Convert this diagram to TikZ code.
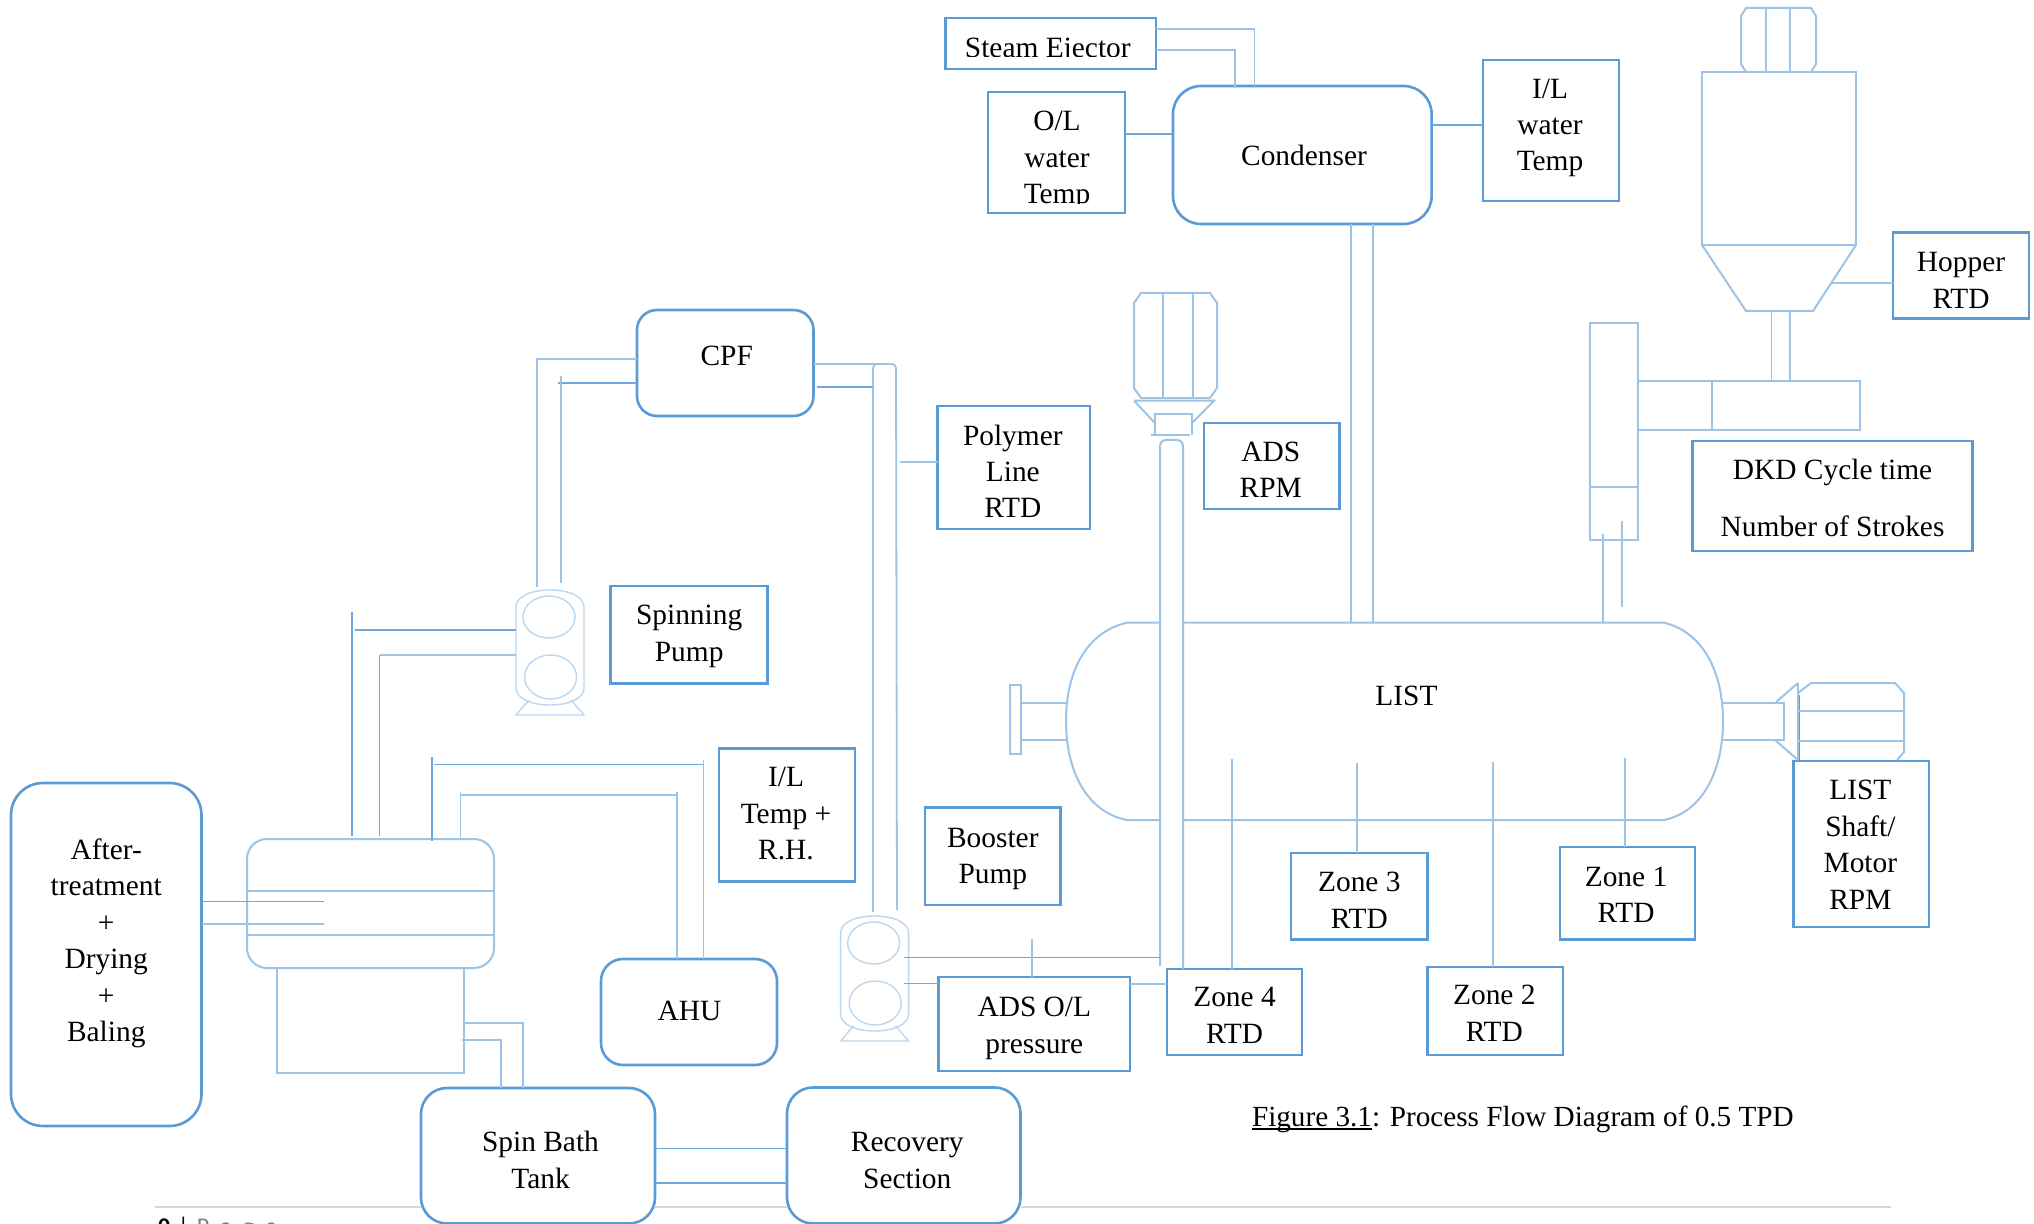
\documentclass[tikz,border=0pt]{standalone}
\usepackage{fontspec}
\setmainfont{Liberation Serif}
\newfontfamily\pagefont{Carlito}
\usetikzlibrary{calc}
\definecolor{bxblue}{HTML}{5B9BD5}
\definecolor{pipeblue}{HTML}{6FA8DC}
\definecolor{lightblue}{HTML}{9DC3E6}
\definecolor{paleblue}{HTML}{BDD7EE}
\newlength\px \setlength\px{0.5pt}
% text block inside a node, offset dx,dy (pixels) from node centre
\newcommand{\lb}[3]{\makebox[0pt]{\hspace*{\dimexpr#1\px*2\relax}\raisebox{\dimexpr-#2\px-5pt\relax}[0pt][0pt]{\begin{tabular}{@{}c@{}}#3\end{tabular}}}}
% style, name, x1,y1,x2,y2, content
\newcommand{\bx}[7]{\node[#1,minimum width={(#5-#3)*0.5pt},minimum height={(#6-#4)*0.5pt}] (#2) at ({(#3+#5)/2},{(#4+#6)/2}) {#7};}
% heavy underline
\newsavebox\ulbox
\newcommand{\hvul}[1]{\sbox\ulbox{#1}\rlap{\rule[-1.7pt]{\wd\ulbox}{0.8pt}}\usebox\ulbox}
% pump symbol: name, x, y
\newcommand{\pumpsym}[3]{%
\begin{scope}[shift={(#2,#3)}]
\node[hit,minimum width=34pt,minimum height=57pt] (#1) at (34,57) {};
\draw[pumpline] (0,17) .. controls (0,7) and (14,0) .. (34,0) .. controls (54,0) and (68,7) .. (68,17) -- (68,98) .. controls (68,108) and (54,115) .. (34,115) .. controls (14,115) and (0,108) .. (0,98) -- cycle;
\draw[pumpline] (33,27) ellipse [x radius=13pt,y radius=10.5pt];
\draw[pumpline] (34.6,87) ellipse [x radius=13pt,y radius=11pt];
\draw[pumpline] (13,110) -- (0,125) -- (68,125) -- (55,110);
\end{scope}}
\tikzset{
  every node/.style={inner sep=0pt,outer sep=0pt},
  txtfont/.style={font=\fontsize{14.7}{18.2}\selectfont},
  sqbox/.style={draw=bxblue,line width=1.3pt,rectangle,txtfont},
  rbox/.style={sqbox,rounded corners=#1},
  rbox/.default=12pt,
  vessel/.style={draw=lightblue,line width=0.9pt,rectangle},
  hit/.style={rectangle},
  pipe/.style={draw=pipeblue,line width=0.7pt},
  lpipe/.style={draw=lightblue,line width=0.9pt},
  pumpline/.style={draw=paleblue,line width=0.7pt},
  shapeline/.style={draw=lightblue,line width=1pt},
  pageline/.style={draw=black!16,line width=1pt},
}
\begin{document}
\begin{tikzpicture}[x=0.5pt,y=-0.5pt]
\useasboundingbox (0,0) rectangle (2034,1224);
\fill[white] (0,0) rectangle (2034,1224);

% ---- main boxes
\bx{sqbox}{steam}{945.6}{18}{1156}{69}{\lb{-3}{4}{Steam Ejector}}
\bx{sqbox}{olw}{988}{92}{1125}{213}{\lb{0.5}{4.5}{O/L\\water\\Temp}}
\bx{rbox=14pt}{cond}{1173}{86}{1431.6}{224}{\lb{1.7}{0.5}{Condenser}}
\bx{sqbox}{ilw}{1483}{60}{1619}{201}{\lb{-1}{-6}{I/L\\water\\Temp}}
\bx{sqbox}{hrtd}{1893}{232.5}{2029}{318.6}{\lb{0}{4.5}{Hopper\\RTD}}
\bx{sqbox}{dkd}{1692.6}{441}{1972.5}{551}{\lb{0}{2}{DKD Cycle time\\[10.3pt]Number of Strokes}}
\bx{sqbox}{adsrpm}{1203.8}{423}{1339.7}{509}{\lb{-1}{3.5}{ADS\\RPM}}
\bx{sqbox}{plrtd}{937.6}{406}{1090}{529}{\lb{-1}{4}{Polymer\\Line\\RTD}}
\bx{rbox=10pt}{cpf}{637}{310}{813.5}{416}{\lb{1.5}{-7.5}{CPF}}
\bx{sqbox}{spump}{610.6}{586}{767.7}{683.7}{\lb{0}{-2}{Spinning\\Pump}}
\bx{sqbox}{iltemp}{719}{748.5}{855}{881.6}{\lb{-1}{-2}{I/L\\Temp +\\R.H.}}
\bx{rbox=16pt}{after}{11}{783}{201.5}{1126}{\lb{0}{-14}{After-\\treatment\\+\\Drying\\+\\Baling}}
\bx{sqbox}{boost}{925}{807.5}{1060.6}{905}{\lb{0}{-1}{Booster\\Pump}}
\bx{rbox=11pt}{ahu}{601}{959}{777}{1065}{\lb{0.5}{-1.5}{AHU}}
\bx{sqbox}{adsol}{938.6}{977}{1130}{1071}{\lb{0}{1}{ADS O/L\\pressure}}
\bx{sqbox}{z4}{1167}{969}{1302}{1055}{\lb{0}{3}{Zone 4\\RTD}}
\bx{sqbox}{z3}{1291}{853}{1427.6}{939.6}{\lb{0}{3.5}{Zone 3\\RTD}}
\bx{sqbox}{z2}{1427.6}{967}{1563}{1055}{\lb{-1}{2}{Zone 2\\RTD}}
\bx{sqbox}{z1}{1560}{847}{1695}{939.6}{\lb{-1.5}{1}{Zone 1\\RTD}}
\bx{sqbox}{shaft}{1793.7}{761}{1929}{927}{\lb{-1}{0.5}{LIST\\Shaft/\\Motor\\RPM}}
\bx{rbox=13pt}{spin}{421}{1088}{655}{1223.5}{\lb{2.5}{4}{Spin Bath\\Tank}}
\bx{rbox=13pt}{rec}{787}{1087.5}{1020.5}{1223.5}{\lb{3.5}{4.5}{Recovery\\Section}}

% clipped text bottoms in the reference
\fill[white] (1020,204) rectangle (1095,210);
\fill[white] (960,57.5) rectangle (1145,66);

% ---- hopper
\draw[shapeline] (1746,72) -- (1741,64) -- (1741,16) -- (1746,8) -- (1811,8) -- (1816,16) -- (1816,64) -- (1811,72);
\bx{hit}{hopb}{1702}{72}{1856}{245}{}
\draw[shapeline] (hopb.south west) rectangle (hopb.north east);
\draw[shapeline] (1766,8) -- (1766,72) (1790,8) -- (1790,72);
\draw[shapeline] (hopb.south west) -- (1746,311) -- (1813,311) -- (hopb.south east);
\coordinate (hopc) at (1831,283);
\draw[lpipe] (hopc) -- (hopc -| hrtd.west);
% DKD
\bx{vessel}{dkdv}{1590}{323}{1638}{540}{}
\draw[shapeline] (dkdv.west |- 0,487.5) -- (dkdv.east |- 0,487.5);
\bx{vessel}{dkdh}{1638}{381}{1860}{430}{}
\draw[shapeline] (1711.5,381) -- (1711.5,430);
\draw[lpipe] (1771.5,311) -- (1771.5,381) (1790,311) -- (1790,381);

% ---- ADS motor
\draw[shapeline] (1141,398) -- (1134,388) -- (1134,303) -- (1141,293) -- (1210,293) -- (1217,303) -- (1217,388) -- (1210,398);
\draw[shapeline] (1141,398) -- (1210,398);
\draw[shapeline] (1163,293) -- (1163,398) (1193,293) -- (1193,398);
\draw[shapeline] (1134,400.7) -- (1214,400.7) -- (1192,423) (1134,400.7) -- (1155,423);
\draw[shapeline] (1155,435) -- (1155,414) -- (1192,414) -- (1192,435) (1151,435.5) -- (1190,435.5);
\coordinate (shl) at (1160,966); \coordinate (shr) at (1183,969);
\draw[shapeline,rounded corners=3pt] (shl) -- (1160,440) -- (1183,440) -- (z4.north -| shr);

% ---- LIST vessel
\bx{hit}{list}{1066}{622.7}{1723}{820}{\lb{12}{-27}{\fontsize{14.7}{18.2}\selectfont LIST}}
\draw[shapeline] (1160,622.7) -- (1127,622.7) .. controls (1086,632) and (1066,672) .. (1066,721) .. controls (1066,770) and (1086,812) .. (1127,820) -- (1160,820);
\draw[shapeline] (1183,622.7) -- (1664,622.7) .. controls (1703,632) and (1723,672) .. (1723,721) .. controls (1723,770) and (1703,812) .. (1664,820) -- (1183,820);
\draw[shapeline] (1009.5,685) rectangle (1020.5,754);
\draw[shapeline] (1020.5,703) -- (1068,703) (1020.5,739.7) -- (1068,739.7);
\draw[shapeline] (1721,703) -- (1784,703) -- (1784,739.7) -- (1721,739.7);
% LIST motor
\draw[shapeline] (1798,683) -- (1798,760);
\draw[bxblue,line width=0.8pt] (1799.5,695) -- (1799.5,760);
\draw[shapeline] (1776,702) -- (1798,683) (1775,740) -- (1798,760);
\draw[shapeline] (1798,693) -- (1811,683) -- (1895,683) -- (1904,693) -- (1904,752) -- (1897,760);
\draw[shapeline] (1798,711) -- (1904,711) (1798,741) -- (1904,741);

% ---- dryer vessel, left
\bx{hit}{dry}{247}{839}{494}{968}{}
\draw[shapeline,rounded corners=10pt] (dry.north west) rectangle (dry.south east);
\draw[shapeline] (dry.west |- 0,891) -- (dry.east |- 0,891) (dry.west |- 0,935.4) -- (dry.east |- 0,935.4);
\bx{vessel}{bath}{277}{968}{464}{1073}{}

% ---- pumps
\pumpsym{pa}{516}{590}
\pumpsym{pb}{840.6}{916}

% ---- connectors
\coordinate (c1) at (1254.4,87.5); \coordinate (c2) at (1234.8,88);
\draw[lpipe] (steam.east |- 0,29) -| (c1);
\draw[lpipe] (steam.east |- 0,50) -| (c2);
\draw[pipe] (olw.east |- 0,134) -- (cond.west |- 0,134);
\draw[pipe] (cond.east |- 0,125) -- (ilw.west |- 0,125);
\draw[lpipe] (cond.south -| 1350.6,0) -- (list.north -| 1350.6,0);
\draw[lpipe] (cond.south -| 1373,0) -- (list.north -| 1373,0);
\coordinate (d1) at (1603,534); \coordinate (d2) at (1622,521); \coordinate (d3) at (1622,606.6);
\draw[lpipe] (d1) -- (d1 |- list.north);
\draw[lpipe] (d2) -- (d3);
% CPF
\coordinate (a1) at (537,587); \coordinate (a2) at (561,376); \coordinate (a3) at (561,583); \coordinate (a4) at (557.5,383);
\draw[lpipe] (cpf.west |- 0,359) -| (a1);
\draw[pipe] (cpf.west |- a4) -- (a4);
\draw[lpipe] (a2) -- (a3);
\coordinate (b1) at (873,912); \coordinate (b2) at (897,910); \coordinate (b3) at (817,387);
\draw[lpipe] (cpf.east |- 0,364) -- (885,364);
\draw[lpipe,rounded corners=2pt] (b1) -- (873,364) -- (896,364) -- (b2);
\draw[pipe] (b3) -- (b3 -| b1);
\coordinate (p1) at (900.4,462);
\draw[lpipe] (p1) -- (p1 -| plrtd.west);
% spinning pump to dryer
\coordinate (e1) at (352,612); \coordinate (e2) at (352,836); \coordinate (e3) at (355,630); \coordinate (e4) at (379.5,655); \coordinate (e5) at (379.5,836);
\draw[pipe] (e1) -- (e2);
\draw[pipe] (e3) -- (e3 -| pa.west);
\draw[pipe] (e4) -- (e5);
\draw[lpipe] (e4) -- (e4 -| pa.west);
% dryer to AHU
\coordinate (g1) at (432,757); \coordinate (g2) at (432,841); \coordinate (g3) at (434,764.7); \coordinate (g4) at (703.5,759.6);
\coordinate (g5) at (460.5,792); \coordinate (g6) at (460.5,840); \coordinate (g7) at (677,792);
\draw[pipe] (g1) -- (g2);
\draw[pipe] (g3) -- (g3 -| g4);
\draw[lpipe] (g4) -- (g4 |- ahu.north);
\draw[lpipe] (g5) -- (g6);
\draw[lpipe] (460.5,795) -- (677,795);
\draw[lpipe] (g7) -- (g7 |- ahu.north);
% after-treatment
\coordinate (h1) at (324,901.5); \coordinate (h2) at (324,924);
\draw[pipe] (after.east |- h1) -- (h1);
\draw[lpipe] (after.east |- h2) -- (h2);
% bath to spin tank
\draw[lpipe] (bath.east |- 0,1023) -- (523,1023) -- (523,1023 |- spin.north);
\draw[lpipe] (462,1040) -- (500.6,1040) -- (500.6,1040 |- spin.north);
\draw[pipe] (spin.east |- 0,1148.6) -- (rec.west |- 0,1148.6);
\draw[pipe] (spin.east |- 0,1183) -- (rec.west |- 0,1183);
% booster pump
\coordinate (k1) at (904,957.5); \coordinate (k2) at (904,983.7); \coordinate (k3) at (1032,939);
\draw[pipe] (k1) -- (k1 -| shl);
\draw[pipe] (k2) -- (k2 -| adsol.west);
\draw[lpipe] (k3) -- (k3 |- adsol.north);
\draw[lpipe] (adsol.east |- k2) -- (z4.west |- k2);
% zones
\coordinate (z4t) at (1232,759); \coordinate (z3t) at (1357,763); \coordinate (z2t) at (1493,761.7); \coordinate (z1t) at (1625,757.5);
\draw[lpipe] (z4t) -- (z4t |- z4.north);
\draw[lpipe] (z3t) -- (z3t |- z3.north);
\draw[lpipe] (z2t) -- (z2t |- z2.north);
\draw[lpipe] (z1t) -- (z1t |- z1.north);

% ---- page footer
\draw[pageline] (155,1206.6) -- (spin.west |- 0,1206.6);
\draw[pageline] (spin.east |- 0,1206.6) -- (rec.west |- 0,1206.6);
\draw[pageline] (rec.east |- 0,1206.6) -- (1891,1206.6);
\node[anchor=base west,font=\pagefont\fontsize{12}{14}\selectfont] (pg) at (158,1234.5) {\textbf{0}\hspace{3.8pt}|\hspace{4pt}\textcolor{black!50}{P\hspace{5.5pt}a\hspace{5.5pt}g\hspace{5.5pt}e}};
\node[anchor=west,font=\fontsize{14.6}{18.2}\selectfont] (cap) at (1252,1119) {\hvul{Figure 3.1}: Process Flow Diagram of 0.5 TPD};
\end{tikzpicture}
\end{document}
